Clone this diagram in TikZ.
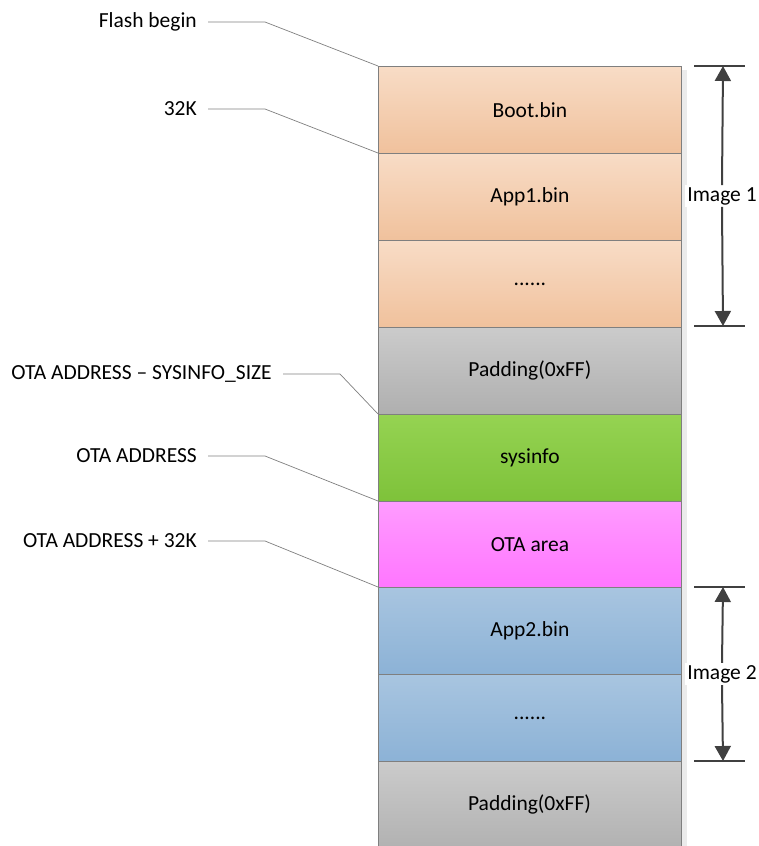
\documentclass[tikz,border=0pt]{standalone}
\usepackage{fontspec}
\setmainfont{Carlito}
\usetikzlibrary{arrows.meta}
\definecolor{orT}{HTML}{F8DCC6}
\definecolor{orB}{HTML}{F0C19C}
\definecolor{grT}{HTML}{CBCBCB}
\definecolor{grB}{HTML}{AFAFAF}
\definecolor{gnT}{HTML}{95D352}
\definecolor{gnB}{HTML}{7EC23A}
\definecolor{pkT}{HTML}{FF9CFF}
\definecolor{pkB}{HTML}{FF75FF}
\definecolor{blT}{HTML}{A8C5E0}
\definecolor{blB}{HTML}{8CB2D6}
\definecolor{edge}{HTML}{7F7F7F}
\definecolor{dark}{HTML}{404040}
\tikzset{
  x=1pt, y=-1pt,
  txt/.style={font=\fontsize{21.5}{24}\selectfont},
  seg/.style 2 args={draw=edge, line width=0.8pt, top color=#1, bottom color=#2, minimum width=303pt, minimum height=87pt, inner sep=0pt, anchor=north west, txt},
  lbl/.style={anchor=east, txt, inner sep=0pt},
  lead/.style={draw=edge, line width=0.7pt},
  dim/.style={draw=dark, line width=2pt},
  dimarrow/.style={draw=dark, line width=2pt, -{Triangle[length=15pt,width=16pt]}},
  imglbl/.style={fill=white, txt, inner sep=2pt},
}
\begin{document}
\begin{tikzpicture}
\useasboundingbox (0,0) rectangle (759,846);
% shadow strip
\fill[black!8] (681,70) rectangle (687,846);
\node[seg={orT}{orB}] (boot) at (378,66) {Boot.bin};
\node[seg={orT}{orB}] (app1) at (378,153) {App1.bin};
\node[seg={orT}{orB}] (dots1) at (378,240) {......};
\node[seg={grT}{grB}] (pad1) at (378,327) {Padding(0xFF)};
\node[seg={gnT}{gnB}] (sys) at (378,414) {sysinfo};
\node[seg={pkT}{pkB}] (ota) at (378,501) {OTA area};
\node[seg={blT}{blB}] (app2) at (378,587) {App2.bin};
\node[seg={blT}{blB}] (dots2) at (378,674) {......};
\node[seg={grT}{grB}, minimum height=95pt] (pad2) at (378,761) {};
\node[txt] (pad2t) at (529.5,804) {Padding(0xFF)};

% labels
\node[lbl] (l1) at (197,22) {Flash begin};
\node[lbl] (l2) at (197,109) {32K};
\node[lbl] (l3) at (272,374) {OTA ADDRESS – SYSINFO\_SIZE};
\node[lbl] (l4) at (197,456) {OTA ADDRESS};
\node[lbl] (l5) at (197,541) {OTA ADDRESS + 32K};
\draw[lead] ([xshift=11pt]l1.east) -- ++(57,0) -- (boot.north west);
\draw[lead] ([xshift=11pt]l2.east) -- ++(57,0) -- (app1.north west);
\draw[lead] ([xshift=11pt]l3.east) -- ++(57,0) -- (sys.north west);
\draw[lead] ([xshift=11pt]l4.east) -- ++(57,0) -- (ota.north west);
\draw[lead] ([xshift=11pt]l5.east) -- ++(57,0) -- (app2.north west);

% dimension 1
\coordinate (t1) at (723,66);
\coordinate (b1) at (723,326);
\draw[dim] (694,66) -- (745,66);
\draw[dim] (694,326) -- (745,326);
\node[imglbl] (i1) at (722,196) {Image 1};
\draw[dimarrow] (i1.north) -- (t1);
\draw[dimarrow] (i1.south) -- (b1);
% dimension 2
\coordinate (t2) at (723,587);
\coordinate (b2) at (723,761);
\draw[dim] (694,587) -- (745,587);
\draw[dim] (694,761) -- (745,761);
\node[imglbl] (i2) at (722,674) {Image 2};
\draw[dimarrow] (i2.north) -- (t2);
\draw[dimarrow] (i2.south) -- (b2);
\end{tikzpicture}
\end{document}
